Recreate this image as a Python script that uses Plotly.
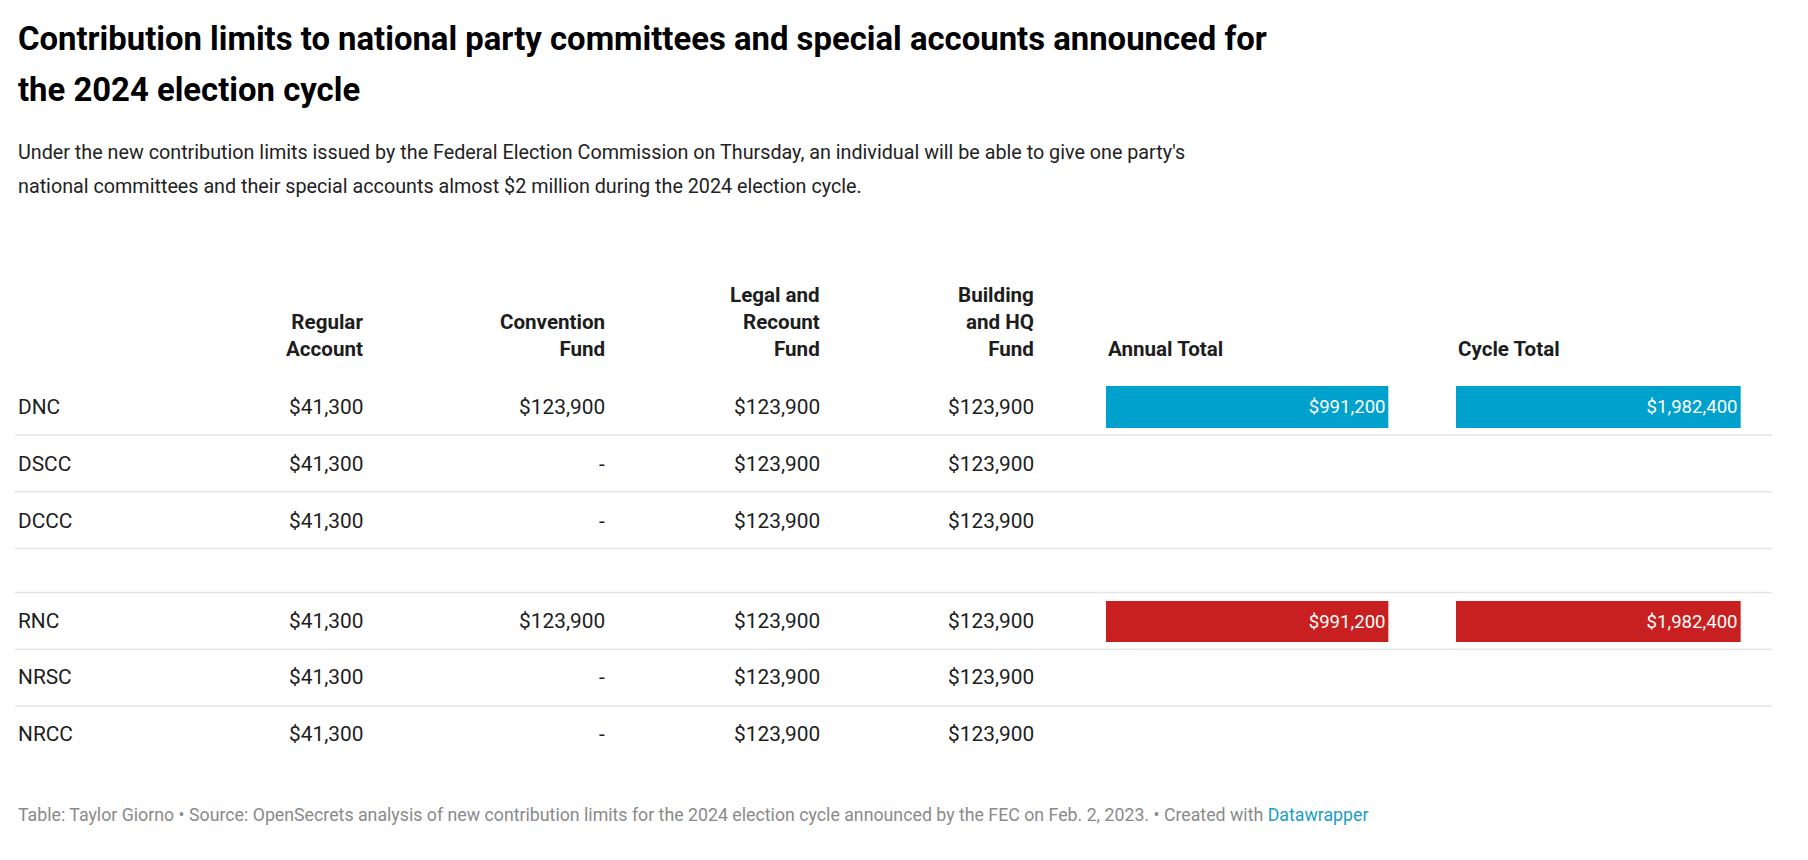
import plotly.graph_objects as go

S = 1.41  # font scale

committees = ["DNC", "DSCC", "DCCC", "RNC", "NRSC", "NRCC"]
regular = ["$41,300"]*6
convention = ["$123,900", "-", "-", "$123,900", "-", "-"]
legal = ["$123,900"]*6
building = ["$123,900"]*6
annual = [991200, None, None, 991200, None, None]
cycle = [1982400, None, None, 1982400, None, None]
headers = ["Regular<br>Account", "Convention<br>Fund", "Legal and<br>Recount<br>Fund", "Building<br>and HQ<br>Fund"]
bar_colors = ["#00a1cc", None, None, "#c81f20", None, None]

row_y = [356, 405, 454, 541, 589, 638]
col_right = [318, 527, 712, 897]
sep_y = [380, 429, 478, 516, 565, 614]

X0, X1 = 10, 1570
Y0, Y1 = 11, 754

def dom(a, b):
    return [(a - X0)/(X1 - X0), (b - X0)/(X1 - X0)]

fig = go.Figure()
ann = []
F = "Roboto"

def add(x, y, t, size, color="#1d1d1d", bold=False, xa="left", ya="middle"):
    ann.append(dict(x=x, y=y, xref="x", yref="y", text=f"<b>{t}</b>" if bold else t, showarrow=False,
                    xanchor=xa, yanchor=ya, align=xa,
                    font=dict(family=F, size=size*S, color=color)))

add(17, 38, "Contribution limits to national party committees and special accounts announced for", 23.3, "#000", True)
add(17, 82, "the 2024 election cycle", 23.3, "#000", True)
add(17, 136, "Under the new contribution limits issued by the Federal Election Commission on Thursday, an individual will be able to give one party's", 14.0, "#222")
add(17, 165, "national committees and their special accounts almost $2 million during the 2024 election cycle.", 14.0, "#222")

for h, xr in zip(headers, col_right):
    add(xr, 318, h, 14.6, "#1d1d1d", True, "right", "bottom")
add(957, 318, "Annual Total", 14.6, "#1d1d1d", True, "left", "bottom")
add(1259, 318, "Cycle Total", 14.6, "#1d1d1d", True, "left", "bottom")

shapes = []
for y in sep_y:
    shapes.append(dict(type="line", xref="x", yref="y", x0=16, x1=1532, y0=y, y1=y,
                       line=dict(color="#e5e5e5", width=1.5)))

for i, c in enumerate(committees):
    y = row_y[i]
    add(17, y, c, 14.8)
    for vals, xr in zip([regular, convention, legal, building], col_right):
        add(xr, y, vals[i], 14.8, "#1d1d1d", False, "right")

for vals, xa in [(annual, "x2"), (cycle, "x3")]:
    ys = [row_y[i] for i, v in enumerate(vals) if v]
    xs = [v for v in vals if v]
    cols = [bar_colors[i] for i, v in enumerate(vals) if v]
    fig.add_trace(go.Bar(x=xs, y=ys, orientation="h", xaxis=xa, yaxis="y", width=36,
                         marker=dict(color=cols, line=dict(width=0)),
                         text=[f"${v:,.0f}" for v in xs], textposition="inside",
                         insidetextanchor="end", textangle=0,
                         textfont=dict(family=F, size=13.2*S, color="white"),
                         hoverinfo="skip", showlegend=False, cliponaxis=False))

add(17, 708, "Table: Taylor Giorno • Source: OpenSecrets analysis of new contribution limits for the 2024 election cycle announced by the FEC on Feb. 2, 2023. • Created with <span style='color:#1a9dc9'>Datawrapper</span>", 12.6, "#8a8a8a")

fig.update_layout(
    width=1808, height=860, margin=dict(l=0, r=0, t=0, b=0),
    paper_bgcolor="white", plot_bgcolor="white",
    xaxis=dict(range=[X0, X1], domain=[0, 1], visible=False, fixedrange=True),
    xaxis2=dict(range=[0, 991200], domain=dom(957, 1201), visible=False, anchor="y"),
    xaxis3=dict(range=[0, 1982400], domain=dom(1259, 1505), visible=False, anchor="y"),
    yaxis=dict(range=[Y1, Y0], visible=False, domain=[0, 1]),
    annotations=ann, shapes=shapes, bargap=0,
)
fig.write_html("out.html")
